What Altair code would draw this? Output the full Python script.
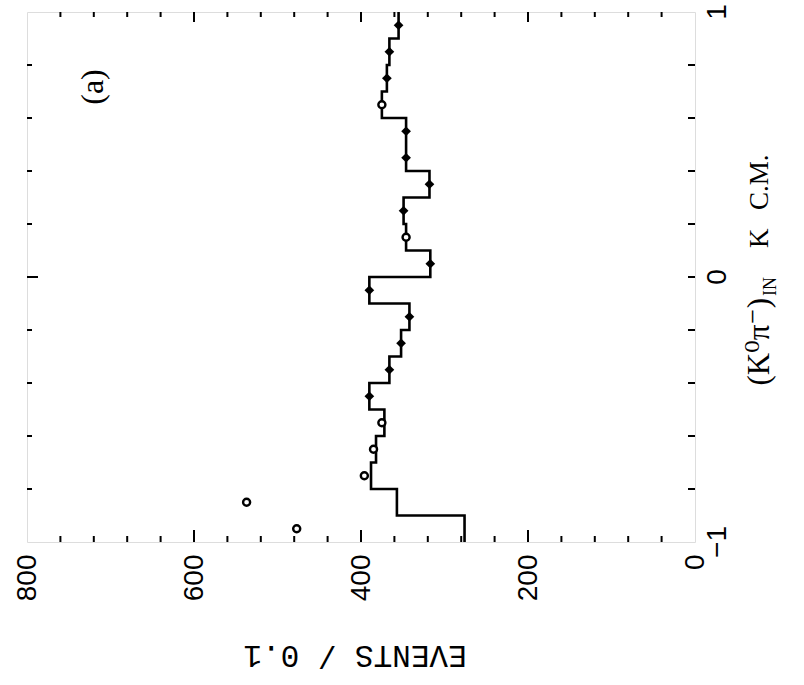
import altair as alt
import pandas as pd

# ---- data ----
bin_lo = [-1.0, -0.9, -0.8, -0.7, -0.6, -0.5, -0.4, -0.3, -0.2, -0.1,
          0.0, 0.1, 0.2, 0.3, 0.4, 0.5, 0.6, 0.7, 0.8, 0.9]
bin_hi = [-0.9, -0.8, -0.7, -0.6, -0.5, -0.4, -0.3, -0.2, -0.1, 0.0,
          0.1, 0.2, 0.3, 0.4, 0.5, 0.6, 0.7, 0.8, 0.9, 1.0]
hist_vals = [276, 357, 388, 382, 372, 390, 366, 352, 342, 390,
             317, 346, 349, 318, 346, 346, 375, 369, 366, 355]
pt_cos = [-0.95, -0.85, -0.75, -0.65, -0.55, -0.45, -0.35, -0.25, -0.15, -0.05,
          0.05, 0.15, 0.25, 0.35, 0.45, 0.55, 0.65, 0.75, 0.85, 0.95]
pt_vals = [477, 537, 396, 385, 375, 390, 366, 352, 342, 390,
           317, 346, 349, 318, 346, 346, 375, 369, 366, 355]
pt_open = [True, True, True, True, True, False, False, False, False, False,
           False, True, False, False, False, False, True, False, False, False]

ev_labels = [0, 200, 400, 600, 800]
ev_major_ticks = [200, 400, 600]
ev_minor_ticks = [40, 80, 120, 160, 240, 280, 320, 360, 440, 480, 520, 560, 640, 680, 720, 760]
cos_labels = [-1, 0, 1]
cos_label_text = ["−1", "0", "1"]
cos_ticks = [-0.8, -0.6, -0.4, -0.2, 0.0, 0.2, 0.4, 0.6, 0.8]

W, H = 668, 530

# ---- tables ----
step_rows = []
for i, (lo, hi, v) in enumerate(zip(bin_lo, bin_hi, hist_vals)):
    step_rows.append({"cos": lo, "events": v, "o": 2 * i})
    step_rows.append({"cos": hi, "events": v, "o": 2 * i + 1})
steps = pd.DataFrame(step_rows)
pts = pd.DataFrame({"cos": pt_cos, "events": pt_vals, "open": pt_open})
filled_pts = pts[~pts["open"]]
open_pts = pts[pts["open"]]

xs = alt.Scale(domain=[0, 800], reverse=True, nice=False, zero=False)
ys = alt.Scale(domain=[-1, 1], nice=False, zero=False)

xaxis = alt.Axis(values=ev_labels, labelAngle=270, labelAlign="right", labelBaseline="middle",
                 labelFont="Liberation Sans", labelFontSize=28, labelPadding=12,
                 labelColor="black", labelFlush=False, labelOverlap=False, labelBound=False,
                 ticks=False, domain=False, grid=False, title=None, format="d")
yaxis = alt.Axis(orient="right", labels=False, ticks=False, domain=False, grid=False, title=None)

X = lambda: alt.X("events:Q", scale=xs, axis=xaxis)
Y = lambda: alt.Y("cos:Q", scale=ys, axis=yaxis)

hist = alt.Chart(steps).mark_line(color="black", strokeWidth=2.6, interpolate="linear").encode(
    x=X(), y=Y(), order="o:Q")

filled = alt.Chart(filled_pts).mark_point(shape="diamond", filled=True, color="black",
                                          size=95, opacity=1).encode(x=X(), y=Y())
opn = alt.Chart(open_pts).mark_point(shape="circle", fill="white", stroke="black",
                                     strokeWidth=2.4, size=50, opacity=1).encode(x=X(), y=Y())

evmaj = pd.DataFrame({"events": ev_major_ticks})
evmin = pd.DataFrame({"events": ev_minor_ticks})
ct = pd.DataFrame({"cos": cos_ticks})
ct0 = pd.DataFrame({"cos": [c for c in cos_ticks if c == 0.0]})
ctn = pd.DataFrame({"cos": [c for c in cos_ticks if c != 0.0]})

def rule(df):
    return alt.Chart(df).mark_rule(color="black", strokeWidth=2)

ticks = [
    rule(evmaj).encode(x=X(), y=alt.value(H), y2=alt.value(H - 12)),
    rule(evmin).encode(x=X(), y=alt.value(H), y2=alt.value(H - 6)),
    rule(evmaj).encode(x=X(), y=alt.value(0), y2=alt.value(10)),
    rule(evmin).encode(x=X(), y=alt.value(0), y2=alt.value(5)),
    rule(ct).encode(y=Y(), x=alt.value(W), x2=alt.value(W - 7)),
    rule(ctn).encode(y=Y(), x=alt.value(0), x2=alt.value(5)),
    rule(ct0).encode(y=Y(), x=alt.value(0), x2=alt.value(11)),
]

cos_lab = alt.Chart(pd.DataFrame({"cos": cos_labels, "t": cos_label_text})).mark_text(
    angle=270, font="Liberation Sans", fontSize=28, align="center", baseline="top",
    color="black").encode(y=Y(), x=alt.value(W + 9), text="t:N")

def label(txt, x, y, angle, font, size, align="center", baseline="middle", weight="normal"):
    return alt.Chart(pd.DataFrame({"t": [txt]})).mark_text(
        angle=angle, font=font, fontSize=size, align=align, baseline=baseline,
        color="black", fontWeight=weight).encode(x=alt.value(x), y=alt.value(y), text="t:N")

texts = [
    label("(a)", 66, 75, 270, "Liberation Serif", 32),
    label("EVENTS / 0.1", 328, 643, 180, "Liberation Mono", 31),
    label("(K⁰π⁻)", 733, 286, 270, "Liberation Serif, DejaVu Serif", 31, align="right"),
    label("IN", 744, 284, 270, "Liberation Serif", 18, align="left"),
    label("K", 733, 236, 270, "Liberation Serif", 27, align="left"),
    label("C.M.", 733, 198, 270, "Liberation Serif", 27, align="left"),
]

chart = alt.layer(hist, filled, opn, *ticks, cos_lab, *texts).properties(
    width=W, height=H,
    autosize=alt.AutoSizeParams(type="none"),
    padding={"left": 27, "top": 12, "right": 804 - 27 - W, "bottom": 685 - 12 - H},
).configure_view(stroke="black", strokeWidth=2.2).configure(background="white")

chart.save("out.html", embed_options={"renderer": "svg", "actions": False})
